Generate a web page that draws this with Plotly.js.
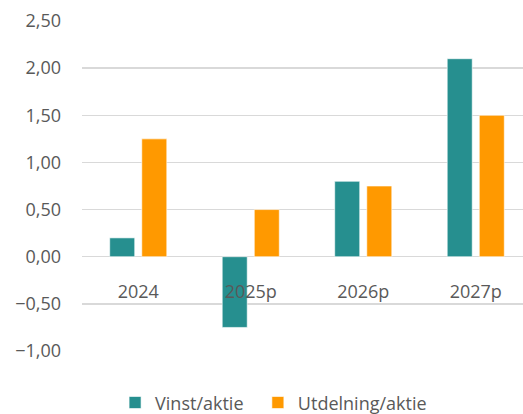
<!DOCTYPE html>
<html>
<head>
<meta charset="utf-8">
<script src="https://cdn.plot.ly/plotly-3.0.1.min.js"></script>
<style>html,body{margin:0;padding:0;background:#fff;}#chart{width:523px;height:414px;}</style>
</head>
<body>
<div id="chart"></div>
<script>
const categories = ["2024", "2025p", "2026p", "2027p"];
const vinstAktie = [0.20, -0.75, 0.80, 2.10];
const utdelningAktie = [1.25, 0.50, 0.75, 1.50];
const seriesNames = ["Vinst/aktie\u00a0\u00a0", "Utdelning/aktie"];
const yTicks = [-1.0, -0.5, 0.0, 0.5, 1.0, 1.5, 2.0, 2.5];

const fontFamily = '"Open Sans", "Noto Sans", sans-serif';
const data = [
  {type: 'bar', x: categories, y: vinstAktie, name: seriesNames[0],
   marker: {color: '#268F8F', line: {color: 'rgba(255,255,255,0.6)', width: 1}}, hoverinfo: 'none'},
  {type: 'bar', x: categories, y: utdelningAktie, name: seriesNames[1],
   marker: {color: '#FF9900', line: {color: 'rgba(255,255,255,0.6)', width: 1}}, hoverinfo: 'none'}
];
const layout = {
  width: 523, height: 414,
  margin: {l: 82, r: 0, t: 21, b: 63, pad: 0, autoexpand: false},
  paper_bgcolor: '#fff', plot_bgcolor: '#fff',
  separators: ',.',
  font: {family: fontFamily, size: 18, color: '#595959'},
  barmode: 'group', bargap: 0.43, bargroupgap: 0.22,
  showlegend: true,
  legend: {orientation: 'h', x: 0.075, xanchor: 'left', y: -0.157, yanchor: 'middle',
           font: {family: fontFamily, size: 18, color: '#595959'}, itemwidth: 30,
           traceorder: 'normal'},
  xaxis: {type: 'category', range: [-0.5, 3.42], anchor: 'free', position: 1/3.5,
          showgrid: false, showline: false, zeroline: false, ticks: '', ticklabelstandoff: 22,
          tickfont: {size: 18, color: '#595959'}, layer: 'above traces'},
  yaxis: {range: [-1, 2.5], tickvals: yTicks, tickformat: '.2f', showgrid: true,
          gridcolor: '#d9d9d9', gridwidth: 1.5, zeroline: false, showline: false, ticks: '',
          ticklabelstandoff: 20, tickfont: {size: 18, color: '#595959'}}
};
Plotly.newPlot('chart', data, layout, {displayModeBar: false, staticPlot: true});
</script>
</body>
</html>
